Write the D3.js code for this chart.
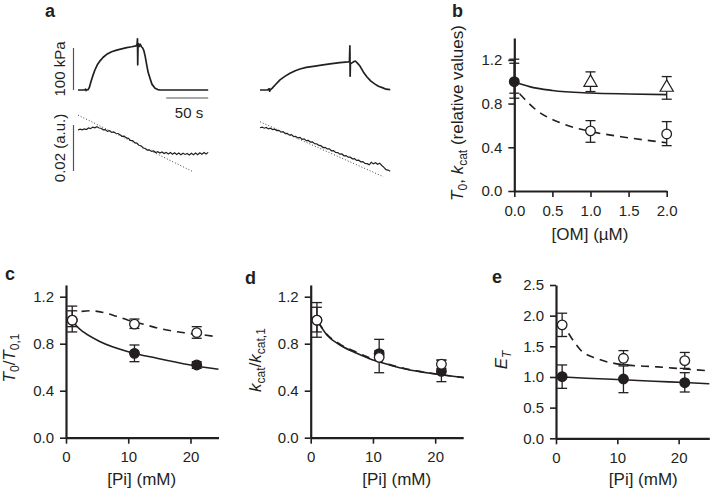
<!DOCTYPE html>
<html><head><meta charset="utf-8">
<script src="https://cdn.jsdelivr.net/npm/d3@7"></script>
<style>
html,body{margin:0;padding:0;background:#fff;}
svg{display:block;}
text{font-family:"Liberation Sans",Arial,sans-serif;fill:#231f20;}
</style></head>
<body>
<svg id="fig" width="710" height="492"></svg>
<script>
// ---------------- DATA ----------------
// Panel a: force traces (time s, kPa) and signal traces (time s, 10^-3 a.u.)
const aForceLeft = [[0,0],[8,0],[9,2],[9.5,-1.5],[10,0],[12,1],[13.5,6],[15.5,20],[17.5,33],[20,47],[23,60],[26.5,70],[30,78],[34.2,85],[40,91],[46,95],[52,98],[58,101],[64,103],[69,105],[70.3,108],[70.8,122],[71.1,60],[71.4,100],[72,110],[73,104],[74,109],[75.5,103],[77,100],[78.5,93],[80,80],[81.8,60],[83.5,42],[85.7,28],[88,14],[91.7,4],[95,1],[98,0],[155,0]];
const aForceRight = [[0,0],[9,0],[11,3],[11.5,-3],[12,0],[14.3,4],[18,12],[23.8,24],[30,33],[35.7,40],[42,46],[47.6,50],[55,54],[65.5,57],[75,60],[83.3,62],[95,65],[105,67],[106.5,68],[107,105],[107.3,33],[107.6,62],[109,64],[112,68],[113.5,69],[116,64],[119,57],[123,43],[127.4,31],[132,21],[136.9,14],[141,9],[146.4,5],[150,2],[155,1]];
const aSignalTime = [0,2.5,5,7.5,10,12.5,15,17.5,20,22.5,25,27.5,30,32.5,35,37.5,40,42.5,45,47.5,50,52.5,55,57.5,60,62.5,65,67.5,70,72.5,75,77.5,80,82.5,85,87.5,90,92.5,95,97.5,100,102.5,105,107.5,110,112.5,115,117.5,120,122.5,125,127.5,130,132.5,135,137.5,140,142.5,145,147.5,150,152.5,155];
const aSignalLeft = [-2.2,-1.8,-2.1,-1.7,-2.0,-1.3,-1.6,-0.9,-1.2,-0.7,-1.3,-1.4,-2.1,-2.0,-2.8,-2.5,-3.2,-3.0,-3.6,-3.7,-4.2,-4.9,-4.8,-5.6,-5.8,-6.7,-6.8,-7.7,-7.9,-8.8,-9.0,-10.0,-10.2,-10.9,-10.8,-11.5,-11.3,-12.0,-11.6,-12.2,-11.7,-12.4,-11.9,-12.6,-12.0,-12.7,-12.1,-12.8,-12.2,-12.9,-12.3,-12.8,-12.4,-13.0,-12.3,-12.9,-12.2,-12.9,-12.1,-12.7,-12.0,-12.6,-11.9];
const aSignalRight = [-1.2,-0.9,-1.4,-1.1,-1.7,-1.4,-2.0,-1.8,-2.4,-2.3,-3.1,-2.9,-3.7,-3.6,-4.4,-4.2,-5.0,-4.9,-5.6,-5.4,-6.2,-6.0,-6.8,-6.7,-7.4,-7.3,-8.1,-8.2,-8.9,-9.0,-9.8,-9.7,-10.4,-10.4,-11.2,-11.1,-11.9,-12.0,-12.7,-12.6,-13.4,-13.3,-14.0,-14.0,-14.7,-14.6,-15.4,-15.3,-16.0,-15.9,-16.7,-16.8,-17.3,-16.2,-16.9,-16.4,-17.1,-16.6,-17.6,-18.4,-19.4,-19.6,-20.1];
const aFitLeft = [[0,4.3],[137,-20.3]];
const aFitRight = [[0,1.4],[147,-22.5]];

// Panel b: [OM] (µM)
const bTicksX = [0,0.5,1.0,1.5,2.0];
const bTicksY = [0,0.4,0.8,1.2];
const bCtrlX = [0,0], bCtrlY = [1.0,1.0], bCtrlLo = [0.849,0.895], bCtrlHi = [1.206,1.169];
const bTriX = [1,2], bTriY = [1.0,0.955], bTriLo = [0.91,0.84], bTriHi = [1.09,1.047];
const bCircX = [1,2], bCircY = [0.55,0.522], bCircLo = [0.446,0.415], bCircHi = [0.644,0.635];
const bSolid = [[0,1.0],[0.2,0.955],[0.5,0.92],[1.0,0.897],[1.5,0.888],[2.0,0.882]];
const bDashed = [[0.07,0.89],[0.29,0.74],[0.6,0.625],[1.0,0.545],[1.4,0.497],[2.0,0.442]];

// Panels c-e: [Pi] (mM)
const piTicksX = [0,10,20];
const cdTicksY = [0,0.4,0.8,1.2];
const eTicksY = [0,0.5,1.0,1.5,2.0,2.5];
const piX = [1,11,21];
const cOpenY = [1.0,0.967,0.894], cOpenLo = [0.945,0.93,0.846], cOpenHi = [1.08,1.01,0.945];
const cFillY = [1.0,0.718,0.619], cFillLo = [0.90,0.647,0.59], cFillHi = [1.12,0.789,0.647];
const cSolid = [[1.2,0.985],[1.7,0.95],[2.8,0.9],[5.5,0.817],[10,0.732],[14.6,0.676],[20,0.619],[24.5,0.582]];
const cDashed = [[2.5,1.075],[4,1.08],[6,1.065],[8,1.035],[10,1.0],[12.5,0.965],[15,0.93],[19,0.893],[22.5,0.872],[24.5,0.858]];
const dOpenY = [1.0,0.684,0.625], dOpenLo = [0.90,0.553,0.59], dOpenHi = [1.11,0.837,0.66];
const dFillY = [1.0,0.715,0.565], dFillLo = [0.855,0.69,0.477], dFillHi = [1.15,0.74,0.661];
const dSolid = [[1,1.0],[2.6,0.874],[4.7,0.789],[7.4,0.718],[10,0.661],[12.7,0.619],[15.4,0.582],[20,0.542],[24.6,0.511]];
const dDashed = [[1.2,0.985],[2.6,0.88],[4.7,0.797],[7.4,0.726],[10,0.668],[12.7,0.622],[15.4,0.585],[20,0.544],[24.6,0.512]];
const eOpenY = [1.85,1.305,1.266], eOpenLo = [1.66,1.2,1.14], eOpenHi = [2.04,1.43,1.40];
const eFillY = [1.005,0.967,0.907], eFillLo = [0.815,0.744,0.755], eFillHi = [1.196,1.18,1.07];
const eSolid = [[1,1.0],[5,0.98],[11,0.955],[16,0.93],[21,0.91],[25,0.89]];
const eDashed = [[2.06,1.71],[2.9,1.58],[4,1.44],[6.7,1.30],[11,1.2],[16.5,1.165],[21,1.13],[25,1.10]];

// ---------------- DRAW ----------------
const INK = "#231f20";
const svg = d3.select("#fig");
const FONT_T = 15, FONT_TITLE = 17;

function panelLetter(t, x, y){
  svg.append("text").attr("x",x).attr("y",y).attr("font-size",18).attr("font-weight","bold").text(t);
}

// ---- Panel a ----
panelLetter("a", 45, 17);
const axL = d3.scaleLinear().domain([0,155]).range([78,208.2]);
const axR = d3.scaleLinear().domain([0,155]).range([260,390.2]);
const ayF = d3.scaleLinear().domain([0,100]).range([90,48]);
const ayS = d3.scaleLinear().domain([0,-20]).range([125,171]);
const lineF = (xs) => d3.line().x(d=>xs(d[0])).y(d=>ayF(d[1]));
const lineS = (xs) => d3.line().x(d=>xs(d[0])).y(d=>ayS(d[1]));
const ga = svg.append("g");
ga.append("path").attr("d", lineF(axL)(aForceLeft)).attr("fill","none").attr("stroke",INK).attr("stroke-width",1.7).attr("stroke-linejoin","round");
ga.append("path").attr("d", lineF(axR)(aForceRight)).attr("fill","none").attr("stroke",INK).attr("stroke-width",1.7).attr("stroke-linejoin","round");
ga.append("path").attr("d", lineS(axL)(aSignalTime.map((t,i)=>[t,aSignalLeft[i]]))).attr("fill","none").attr("stroke",INK).attr("stroke-width",1.2);
ga.append("path").attr("d", lineS(axR)(aSignalTime.map((t,i)=>[t,aSignalRight[i]]))).attr("fill","none").attr("stroke",INK).attr("stroke-width",1.2);
ga.append("path").attr("d", lineS(axL)(aFitLeft)).attr("fill","none").attr("stroke","#444").attr("stroke-width",1).attr("stroke-dasharray","1,2");
ga.append("path").attr("d", lineS(axR)(aFitRight)).attr("fill","none").attr("stroke","#444").attr("stroke-width",1).attr("stroke-dasharray","1,2");
// scale bars
ga.append("line").attr("x1",73.5).attr("x2",73.5).attr("y1",ayF(0)).attr("y2",ayF(100)).attr("stroke","#555").attr("stroke-width",1.2);
ga.append("line").attr("x1",axL(105)).attr("x2",axL(155)).attr("y1",98).attr("y2",98).attr("stroke","#555").attr("stroke-width",1.2);
ga.append("line").attr("x1",73.5).attr("x2",73.5).attr("y1",ayS(0)).attr("y2",ayS(-20)).attr("stroke","#555").attr("stroke-width",1.2);
ga.append("text").attr("transform","translate(65,69) rotate(-90)").attr("text-anchor","middle").attr("font-size",FONT_T).text("100 kPa");
ga.append("text").attr("transform","translate(65,148) rotate(-90)").attr("text-anchor","middle").attr("font-size",FONT_T).text("0.02 (a.u.)");
ga.append("text").attr("x",189).attr("y",118).attr("text-anchor","middle").attr("font-size",FONT_T).text("50 s");

// ---- generic plot helpers ----
function drawAxes(g, x, y, xt, yt, xf, yf){
  const xa = d3.axisBottom(x).tickValues(xt).tickFormat(xf).tickSize(6).tickSizeOuter(0).tickPadding(8);
  const ya = d3.axisLeft(y).tickValues(yt).tickFormat(yf).tickSize(6).tickSizeOuter(0).tickPadding(6);
  const gx = g.append("g").attr("transform",`translate(0,${y.range()[0]})`).call(xa);
  const gy = g.append("g").attr("transform",`translate(${x.range()[0]},0)`).call(ya);
  [gx,gy].forEach(a=>{
    a.select(".domain").attr("stroke",INK).attr("stroke-width",2.2);
    a.selectAll(".tick line").attr("stroke",INK).attr("stroke-width",1.6);
    a.selectAll(".tick text").attr("font-size",FONT_T).attr("fill",INK).attr("font-family","Liberation Sans, Arial, sans-serif");
  });
}
function drawCurve(g, x, y, pts, dashed){
  g.append("path").attr("d", d3.line().x(d=>x(d[0])).y(d=>y(d[1])).curve(d3.curveMonotoneX)(pts))
   .attr("fill","none").attr("stroke",INK).attr("stroke-width",1.6).attr("stroke-dasharray", dashed ? "8,6" : null);
}
function drawErr(g, x, y, xs, lo, hi){
  xs.forEach((v,i)=>{
    const cx = x(v);
    g.append("line").attr("x1",cx).attr("x2",cx).attr("y1",y(lo[i])).attr("y2",y(hi[i])).attr("stroke",INK).attr("stroke-width",1.3);
    [lo[i],hi[i]].forEach(w=>g.append("line").attr("x1",cx-5).attr("x2",cx+5).attr("y1",y(w)).attr("y2",y(w)).attr("stroke",INK).attr("stroke-width",1.3));
  });
}
function drawCircles(g, x, y, xs, ys, filled){
  xs.forEach((v,i)=>g.append("circle").attr("cx",x(v)).attr("cy",y(ys[i])).attr("r",4.8)
    .attr("fill",filled?INK:"#fff").attr("stroke",INK).attr("stroke-width",1.3));
}
function drawTriangles(g, x, y, xs, ys){
  const sym = d3.symbol().type(d3.symbolTriangle).size(75);
  xs.forEach((v,i)=>g.append("path").attr("d",sym()).attr("transform",`translate(${x(v)},${y(ys[i])+0.8})`)
    .attr("fill","#fff").attr("stroke",INK).attr("stroke-width",1.2));
}
function rotTitle(x, y, parts){
  const t = svg.append("text").attr("transform",`translate(${x},${y}) rotate(-90)`).attr("text-anchor","middle").attr("font-size",FONT_TITLE);
  parts.forEach(p=>{
    const s = t.append("tspan").text(p.t);
    if(p.i) s.attr("font-style","italic");
    if(p.sub){ s.attr("font-size",12).attr("dy",4); }
    if(p.up){ s.attr("dy",-4); }
  });
}
function xTitle(x, y, txt){
  svg.append("text").attr("x",x).attr("y",y).attr("text-anchor","middle").attr("font-size",FONT_TITLE).text(txt);
}
const f1 = d3.format(".1f"), f0 = d3.format("d");

// ---- Panel b ----
panelLetter("b", 452, 17);
const bx = d3.scaleLinear().domain([0,2]).range([514.3,666.7]);
const by = d3.scaleLinear().domain([0,1.4]).range([191,38]);
const gb = svg.append("g");
drawAxes(gb, bx, by, bTicksX, bTicksY, f1, f1);
drawCurve(gb, bx, by, bSolid, false);
drawCurve(gb, bx, by, bDashed, true);
drawErr(gb, bx, by, bCtrlX, bCtrlLo, bCtrlHi);
drawErr(gb, bx, by, bTriX, bTriLo, bTriHi);
drawErr(gb, bx, by, bCircX, bCircLo, bCircHi);
drawTriangles(gb, bx, by, bTriX, bTriY);
drawCircles(gb, bx, by, bCircX, bCircY, false);
drawCircles(gb, bx, by, [bCtrlX[0]], [bCtrlY[0]], true);
rotTitle(463, 113, [{t:"T",i:true},{t:"0",sub:true},{t:", ",up:true},{t:"k",i:true},{t:"cat",sub:true},{t:" (relative values)",up:true}]);
xTitle(590, 240, "[OM] (\u00B5M)");

// ---- Panel c ----
panelLetter("c", 5, 280);
const cx = d3.scaleLinear().domain([0,24.5]).range([66,218.5]);
const cy = d3.scaleLinear().domain([0,1.3]).range([437.7,284.95]);
const gc = svg.append("g");
drawAxes(gc, cx, cy, piTicksX, cdTicksY, f0, f1);
drawCurve(gc, cx, cy, cSolid, false);
drawCurve(gc, cx, cy, cDashed, true);
drawErr(gc, cx, cy, piX, cFillLo, cFillHi);
drawErr(gc, cx, cy, piX, cOpenLo, cOpenHi);
drawCircles(gc, cx, cy, piX, cFillY, true);
drawCircles(gc, cx, cy, piX, cOpenY, false);
rotTitle(15, 358, [{t:"T",i:true},{t:"0",sub:true},{t:"/",up:true},{t:"T",i:true},{t:"0,1",sub:true}]);
xTitle(141.7, 485, "[Pi] (mM)");

// ---- Panel d ----
panelLetter("d", 245, 284);
const dx = d3.scaleLinear().domain([0,24.5]).range([310.7,463.2]);
const dy = d3.scaleLinear().domain([0,1.3]).range([437.7,284.95]);
const gd = svg.append("g");
drawAxes(gd, dx, dy, piTicksX, cdTicksY, f0, f1);
drawCurve(gd, dx, dy, dSolid, false);
drawCurve(gd, dx, dy, dDashed, true);
drawErr(gd, dx, dy, piX, dFillLo, dFillHi);
drawErr(gd, dx, dy, piX, dOpenLo, dOpenHi);
drawCircles(gd, dx, dy, piX, dFillY, true);
drawCircles(gd, dx, dy, piX, dOpenY, false);
rotTitle(261, 360, [{t:"k",i:true},{t:"cat",sub:true},{t:"/",up:true},{t:"k",i:true},{t:"cat,1",sub:true}]);
xTitle(396.7, 485, "[Pi] (mM)");

// ---- Panel e ----
panelLetter("e", 492, 283);
const ex = d3.scaleLinear().domain([0,25]).range([556,709.3]);
const ey = d3.scaleLinear().domain([0,2.5]).range([438.3,285]);
const ge = svg.append("g");
drawAxes(ge, ex, ey, piTicksX, eTicksY, f0, f1);
drawCurve(ge, ex, ey, eSolid, false);
drawCurve(ge, ex, ey, eDashed, true);
drawErr(ge, ex, ey, piX, eFillLo, eFillHi);
drawErr(ge, ex, ey, piX, eOpenLo, eOpenHi);
drawCircles(ge, ex, ey, piX, eFillY, true);
drawCircles(ge, ex, ey, piX, eOpenY, false);
rotTitle(507, 360, [{t:"E",i:true},{t:"T",sub:true,i:true}]);
xTitle(643.3, 485, "[Pi] (mM)");
</script>
</body></html>
